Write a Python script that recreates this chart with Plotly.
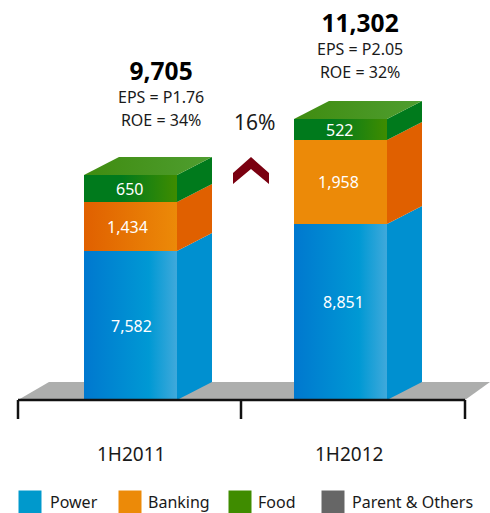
import plotly.graph_objects as go

FONT = "Noto Sans"
periods = ["1H2011", "1H2012"]
segments = ["Power", "Banking", "Food"]
legend_names = ["Power", "Banking", "Food", "Parent & Others"]
legend_colors = ["#0099CC", "#EC8A08", "#3F8C00", "#666666"]
power = [7582, 8851]
banking = [1434, 1958]
food = [650, 522]
totals = ["9,705", "11,302"]
eps = ["EPS = P1.76", "EPS = P2.05"]
roe = ["ROE = 34%", "ROE = 32%"]
growth = "16%"
# The original stacks are not drawn to scale: these are the drawn segment heights.
drawn_power = [149, 176]
drawn_banking = [49, 84]
drawn_food = [27, 21]

bar_left = [84, 294]
bar_w = 93
dx, dy = 35, 18
block_y = [308, 356]
label_x = [161, 360]
label_xshift = {"Power": [0, 2], "Banking": [-4, -3], "Food": [-2, -2]}
label_yshift = {"Power": [0, 10], "Banking": [0, 0], "Food": [0, 0]}
stops = {
    "Power": [[0, "#0078CF"], [0.7, "#0099D4"], [1, "#40A9DB"]],
    "Banking": [[[0, "#E06000"], [1, "#EC8A08"]], [[0, "#EC8A08"], [1, "#EC8A08"]]],
    "Food": [[0, "#007A1C"], [0.4, "#007A1C"], [1, "#3F8C00"]],
}
side = {"Power": "#0090D0", "Banking": "#E06000", "Food": "#007A1C"}

fig = go.Figure()

def poly(xs, ys, color=None, grad=None):
    kw = dict(fillcolor=color) if color else dict(fillgradient=grad)
    fig.add_trace(go.Scatter(x=xs, y=ys, mode="lines", fill="toself",
                             line=dict(width=0), hoverinfo="skip",
                             showlegend=False, **kw))

# floor
poly([18, 49, 490, 465, 18], [0, dy, dy, 0, 0], color="#ADAEAD")

for i in range(2):
    l, r = bar_left[i], bar_left[i] + bar_w
    base = 0
    heights = dict(zip(segments, [drawn_power[i], drawn_banking[i], drawn_food[i]]))
    values = dict(zip(segments, [power[i], banking[i], food[i]]))
    for s in segments:
        top = base + heights[s]
        c = stops[s][i] if s == "Banking" else stops[s]
        poly([l, r, r, l, l], [base, base, top, top, base],
             grad=dict(type="horizontal", colorscale=c))
        poly([r, r + dx, r + dx, r, r], [base, base + dy, top + dy, top, base], color=side[s])
        fig.add_annotation(x=l + bar_w * 0.51 + label_xshift[s][i],
                           y=base + heights[s] / 2 + label_yshift[s][i], text=f"{values[s]:,}",
                           showarrow=False, font=dict(color="white", size=16, family=FONT))
        base = top
    poly([l, r, r + dx, l + dx, l], [base, base, base + dy, base + dy, base],
         grad=dict(type="horizontal", colorscale=[[0, "#3F8C10"], [1, "#4F9E30"]]))
    block = (f'<span style="font-size:24.5px;color:black"><b>{totals[i]}</b></span><br>'
             f'<span style="font-size:16px">{eps[i]}</span><br>'
             f'<span style="font-size:16px">{roe[i]}</span>')
    fig.add_annotation(x=label_x[i], y=block_y[i], text=block, showarrow=False,
                       font=dict(color="#1a1a1a", size=17.5, family=FONT))
    fig.add_annotation(x=131 + i * 218, y=-54, text=periods[i], showarrow=False,
                       font=dict(color="#1a1a1a", size=19, family=FONT))

# growth chevron
poly([233, 251, 269, 269, 251, 233, 233], [227, 243, 227, 216, 231, 216, 227], color="#7A0010")
fig.add_annotation(x=254, y=278, text=growth, showarrow=False,
                   font=dict(color="#1a1a1a", size=21, family=FONT))

# axis bracket
fig.add_trace(go.Scatter(x=[18, 18, None, 18, 465, None, 241, 241, None, 465, 465],
                         y=[-19, 0, None, 0, 0, None, 0, -19, None, 0, -19], mode="lines",
                         line=dict(color="#111111", width=2.5), hoverinfo="skip", showlegend=False))

# legend
lx = [30, 130, 240, 333]
tx = [48, 146, 256, 350]
for name, col, a, b in zip(legend_names, legend_colors, lx, tx):
    fig.add_trace(go.Scatter(x=[a], y=[-102], mode="markers", hoverinfo="skip", showlegend=False,
                             marker=dict(symbol="square", size=23, color=col, line=dict(width=0))))
    fig.add_annotation(x=b, y=-102, text=name, showarrow=False, xanchor="left",
                       font=dict(color="#1a1a1a", size=16, family=FONT))

fig.update_layout(width=490, height=513, margin=dict(l=0, r=0, t=0, b=0), autosize=False,
                  paper_bgcolor="white", plot_bgcolor="white", showlegend=False,
                  xaxis=dict(range=[0, 490], visible=False, fixedrange=True),
                  yaxis=dict(range=[-113, 400], visible=False, fixedrange=True))
fig.write_html("out.html", config=dict(displayModeBar=False),
               post_script="document.body.style.margin='0';document.documentElement.style.overflow='hidden';")
